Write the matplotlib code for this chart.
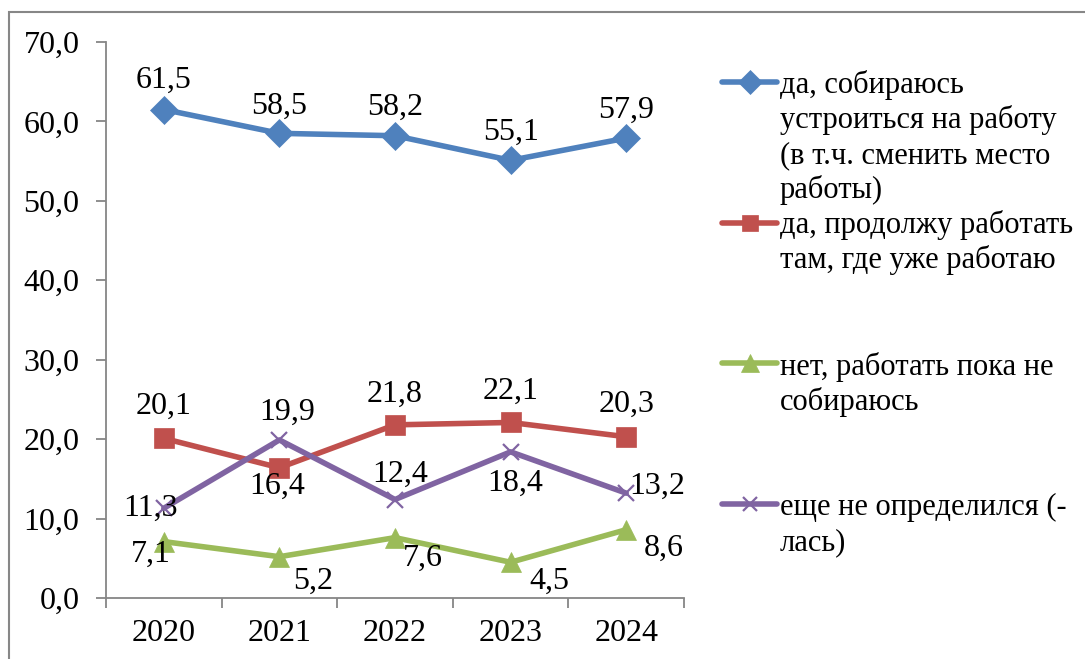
import matplotlib
matplotlib.use("Agg")
import matplotlib.pyplot as plt
from matplotlib.lines import Line2D
from matplotlib.patches import Rectangle

years = ["2020", "2021", "2022", "2023", "2024"]
s_find_job = [61.5, 58.5, 58.2, 55.1, 57.9]
s_keep_job = [20.1, 16.4, 21.8, 22.1, 20.3]
s_not_yet = [7.1, 5.2, 7.6, 4.5, 8.6]
s_undecided = [11.3, 19.9, 12.4, 18.4, 13.2]

labels = [
    ["да, собираюсь", "устроиться на работу", "(в т.ч. сменить место", "работы)"],
    ["да, продолжу работать", "там, где уже работаю"],
    ["нет, работать пока не", "собираюсь"],
    ["еще не определился (-", "лась)"],
]

W, H = 1085, 659
plt.rcParams['font.family'] = ['Liberation Serif', 'DejaVu Serif']
FS = 23
LFS = 22

fig = plt.figure(figsize=(W / 100, H / 100), dpi=100)
fig.patch.set_facecolor('white')

def fx(px):
    return px / W

def fy(py):
    return 1 - py / H

# outer border
fig.patches.append(Rectangle((fx(9), fy(700)), 2, fy(12) - fy(700), transform=fig.transFigure,
                             fill=False, edgecolor='#878787', linewidth=1.5))

ax = fig.add_axes([fx(106), fy(598), fx(684) - fx(106), fy(42) - fy(598)])

colors = ['#4F81BD', '#C0504D', '#9BBB59', '#8064A2']
markers = ['D', 's', '^', 'x']
msizes = [14, 14, 15, 12]
series = [s_find_job, s_keep_job, s_not_yet, s_undecided]

# label offsets (pixels) for each point
offsets = [
    [(0, 29), (0, 27), (0, 28), (0, 28), (0, 28)],
    [(0, 32), (-2, -19), (0, 31), (0, 31), (0, 32)],
    [(-13, -13), (34, -25), (28, -21), (39, -19), (38, -19)],
    [(-13, 0), (8, 28), (5, 25), (5, -31), (31, 7)],
]

x = list(range(len(years)))
for vals, c, m, ms, offs in zip(series, colors, markers, msizes, offsets):
    ax.plot(x, vals, color=c, linewidth=4, marker=m, markersize=ms,
            markeredgewidth=1.6 if m == 'x' else 0.5, markeredgecolor=c,
            markerfacecolor=c, solid_capstyle='round', zorder=3)
    for xi, v, (dx, dy) in zip(x, vals, offs):
        ax.annotate(f"{v:.1f}".replace('.', ','), (xi, v), xytext=(dx, dy),
                    textcoords='offset pixels', ha='center', va='center',
                    fontsize=FS, zorder=5)

ax.set_xlim(-0.5, len(years) - 0.5)
ax.set_ylim(0, 70)
ax.set_yticks(range(0, 71, 10))
ax.set_yticklabels([f"{t:.1f}".replace('.', ',') for t in range(0, 71, 10)])
ax.set_xticks(x)
ax.set_xticklabels(years)
ax.set_xticks([i - 0.5 for i in range(len(years) + 1)], minor=True)
ax.tick_params(axis='x', which='major', length=0, pad=15, labelsize=FS)
ax.tick_params(axis='x', which='minor', length=7, width=1.3, color='#868686')
ax.tick_params(axis='y', length=7, width=1.3, color='#868686', pad=12, labelsize=FS)
for sp in ['top', 'right']:
    ax.spines[sp].set_visible(False)
for sp in ['left', 'bottom']:
    ax.spines[sp].set_color('#868686')
    ax.spines[sp].set_linewidth(1.3)

# legend drawn manually
handle_y = [82, 223, 363, 504]
first_baseline = [93, 233, 375, 515]
line_step = 35
for c, m, ms, hy, by, labs in zip(colors, markers, msizes, handle_y, first_baseline, labels):
    fig.lines.append(Line2D([fx(722), fx(777)], [fy(hy), fy(hy)], transform=fig.transFigure,
                            color=c, linewidth=4, solid_capstyle='round'))
    fig.lines.append(Line2D([fx(749.5)], [fy(hy)], transform=fig.transFigure, color=c,
                            marker=m, markersize=ms * 0.85, markerfacecolor=c, markeredgecolor=c,
                            markeredgewidth=1.6 if m == 'x' else 0.5, linestyle='none'))
    for i, t in enumerate(labs):
        fig.text(fx(780), fy(by + i * line_step), t, fontsize=LFS, ha='left', va='baseline')

fig.savefig('out.png', dpi=100, facecolor='white')
